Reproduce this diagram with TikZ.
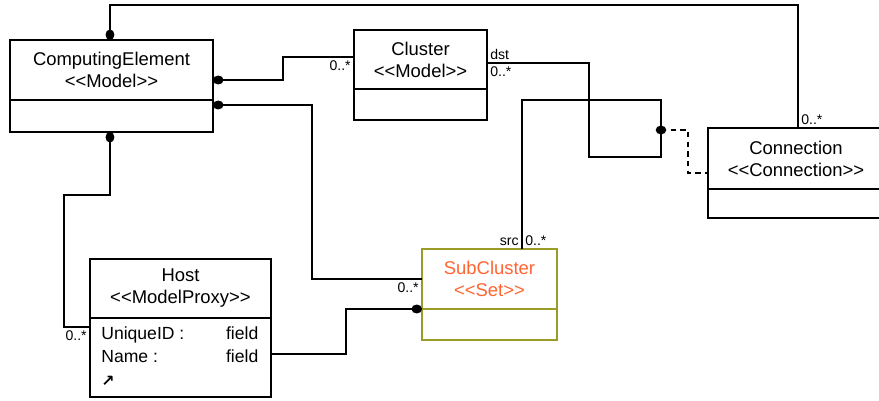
\documentclass[tikz,border=0pt]{standalone}
\usepackage{fontspec}
\setmainfont{Liberation Sans}
\newfontfamily\symfont{DejaVu Sans}
\usetikzlibrary{arrows.meta,positioning}
\definecolor{setline}{RGB}{155,155,40}
\definecolor{settext}{RGB}{255,100,50}
\newcommand{\stereo}[1]{<\kern0pt<#1>\kern0pt>}

\begin{document}
\begin{tikzpicture}[
    x=0.02cm,y=-0.02cm,
    chead/.style={draw,line width=0.8pt,inner sep=0pt,outer sep=0pt,align=center,anchor=north west,
      font=\fontsize{10.5}{12.5}\selectfont},
    cbody/.style={draw,line width=0.8pt,inner sep=0pt,outer sep=0pt},
    mult/.style={font=\fontsize{8}{9}\selectfont,inner sep=1.5pt},
    assoc/.style={line width=0.8pt},
    owner/.style={arrows={Circle[length=6pt,width=5pt]-}}]
  \useasboundingbox (0,0) rectangle (879,400);
  \node[chead,minimum width=4.06cm,minimum height=1.2cm] (ceh) at (10,40) {ComputingElement\\\stereo{Model}};
  \node[cbody,minimum width=4.06cm,minimum height=0.64cm,below=0pt of ceh] (ceb) {};
  \node[chead,minimum width=2.66cm,minimum height=1.18cm] (clh) at (354,30) {Cluster\\\stereo{Model}};
  \node[cbody,minimum width=2.66cm,minimum height=0.62cm,below=0pt of clh] (clb) {};
  \node[chead,minimum width=3.52cm,minimum height=1.22cm] (cnh) at (708,128) {Connection\\\stereo{Connection}};
  \node[cbody,minimum width=3.52cm,minimum height=0.58cm,below=0pt of cnh] (cnb) {};
  \node[chead,minimum width=3.62cm,minimum height=1.18cm] (hsh) at (90,259) {Host\\\stereo{ModelProxy}};
  \node[cbody,minimum width=3.62cm,minimum height=1.58cm,below=0pt of hsh] (hsb) {};
  \node[anchor=north west,inner sep=0pt,font=\fontsize{10}{13.6}\selectfont] (hsattr)
    at ([xshift=0.22cm,yshift=-0.08cm]hsb.north west)
    {\begin{tabular*}{3.14cm}{@{}l@{\extracolsep{\fill}}r@{}}
      UniqueID : & field\\
      Name : & field\\
      {\symfont\bfseries\fontsize{9}{10}\selectfont ↗} &
    \end{tabular*}};
  \node[chead,draw=setline,text=settext,minimum width=2.7cm,minimum height=1.2cm] (sch) at (422,249) {SubCluster\\\stereo{Set}};
  \node[cbody,draw=setline,minimum width=2.7cm,minimum height=0.62cm,below=0pt of sch] (scb) {};

  \coordinate (top) at (0,5);
  \draw[assoc,owner] ([xshift=2cm]ceh.north west) -- ([xshift=2cm]ceh.north west |- top)
    -| ([xshift=1.8cm]cnh.north west) node[mult,above right]{0..*};
  \draw[assoc,owner] ([yshift=-0.8cm]ceh.north east) -- ++(70,0)
    |- ([yshift=-0.54cm]clh.north west) node[mult,below left]{0..*};
  \draw[assoc,owner] ([yshift=-0.1cm]ceb.north east) -- ++(99,0)
    |- ([yshift=-0.6cm]sch.north west) node[mult,below left]{0..*};
  \draw[assoc] ([yshift=-0.66cm]clh.north east) node[mult,above right]{dst} node[mult,below right]{0..*}
    -- ++(102,0) -- ++(0,94) -- ++(72,0) coordinate (lp) -- ++(0,-57)
    -| ([xshift=2cm]sch.north west) node[mult,above left]{src} node[mult,above right]{0..*};
  \coordinate (ac) at ([yshift=0.54cm]lp);
  \fill (ac) ellipse [x radius=3pt,y radius=2.5pt];
  \draw[assoc,dash pattern=on 3pt off 2.5pt] (ac) -- ++(27,0) |- ([yshift=-0.9cm]cnh.north west);
  \draw[assoc,owner] ([xshift=2cm]ceb.south west) -- ++(0,63) -- ++(-46,0)
    |- ([yshift=-0.18cm]hsb.north west) node[mult,below left]{0..*};
  \draw[assoc,-{Circle[length=6pt,width=5pt]}] ([yshift=-0.72cm]hsb.north east) -- ++(75,0)
    |- (sch.south west);
\end{tikzpicture}
\end{document}
